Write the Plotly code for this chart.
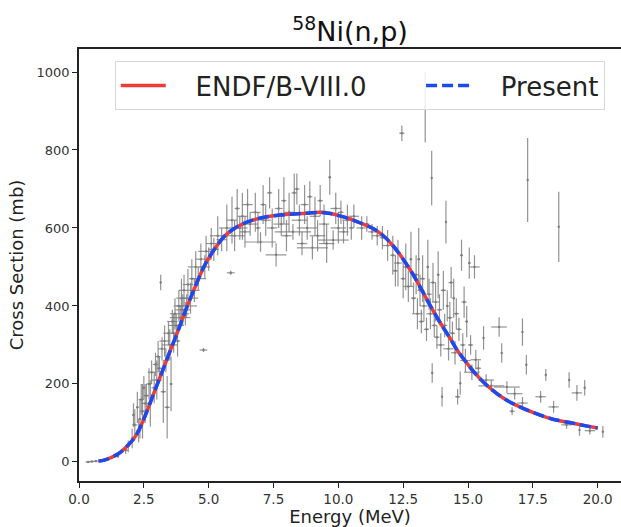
import plotly.graph_objects as go

# Evaluated curves
curve_energy = [0.75, 1.0, 1.5, 1.85, 2.2, 2.5, 2.85, 3.2, 3.5, 3.85, 4.16, 4.5, 4.85, 5.3, 5.6,
                5.93, 6.3, 6.7, 7.2, 7.75, 8.3, 8.8, 9.3, 9.7, 10.06, 10.5, 10.8, 11.3, 11.7,
                12.1, 12.5, 12.87, 13.2, 13.5, 13.9, 14.3, 14.6, 14.95, 15.3, 15.8, 16.4, 17.0,
                17.5, 18.0, 18.5, 19.0, 19.5, 20.0]
endf_cs = [2, 5, 20, 40, 68, 110, 170, 230, 282, 342, 397, 452, 505, 553, 578,
           596, 610, 620, 628, 633, 636, 638, 640, 637, 631, 622, 614, 600, 582,
           555, 520, 482, 443, 406, 360, 318, 285, 254, 225, 192, 162, 141,
           127, 115, 106, 100, 93, 87]
present_cs = [2, 5, 20, 40, 68, 110, 170, 230, 282, 342, 397, 452, 505, 553, 578,
              596, 610, 620, 628, 633, 636, 638, 640, 637, 631, 622, 614, 600, 582,
              555, 520, 482, 443, 406, 360, 318, 285, 254, 225, 192, 162, 141,
              127, 115, 106, 100, 93, 87]

exp_energy = [0.35, 0.5, 0.65, 1.0, 1.5, 1.8, 1.9, 2.05, 2.1, 2.15, 2.25, 2.3, 2.35, 2.4, 2.45, 2.5, 2.55,
              2.6, 2.7, 2.75, 2.8, 2.9, 2.95, 3.0, 3.05, 3.1, 3.15, 3.2, 3.25, 3.3, 3.35, 3.4, 3.45, 3.5, 3.55,
              3.6, 3.65, 3.7, 3.75, 3.8, 3.85, 3.9, 3.95, 4.0, 4.05,
              4.1, 4.15, 4.2, 4.3, 4.35, 4.45, 4.5, 4.6, 4.7, 4.8, 4.85, 4.9, 5.0, 5.1, 5.2, 5.35, 5.5, 5.7,
              5.85, 5.9, 6.0, 6.1, 6.2, 6.3, 6.4, 6.5, 6.6,
              6.8, 6.9, 7.0, 7.1, 7.2, 7.35, 7.45, 7.6, 7.7, 7.8, 7.9, 8.0, 8.1, 8.25, 8.3, 8.4, 8.5, 8.6,
              8.7, 8.8, 8.9, 9.0, 9.1, 9.2, 9.3, 9.45, 9.55, 9.67, 9.8, 9.9, 10.0, 10.1, 10.2, 10.35, 10.5, 10.6,
              10.9, 11.1, 11.3, 11.5, 11.7, 11.9, 12.1, 12.2, 12.3, 12.45, 12.5,
              12.6, 12.7, 12.8, 12.9, 13.0, 13.05, 13.1, 13.15, 13.2, 13.25, 13.3, 13.35, 13.4, 13.45, 13.5,
              13.55, 13.6, 13.62, 13.65, 13.7, 13.75, 13.8, 13.85, 13.9, 13.95, 14.0, 14.05, 14.1, 14.15, 14.2,
              14.25, 14.3, 14.35, 14.4, 14.45, 14.5, 14.55, 14.6, 14.65, 14.7, 14.75, 14.8, 14.85, 14.9, 14.95,
              15.05, 15.1, 15.15, 15.25, 15.3, 15.4, 15.6, 15.7, 15.9,
              16.2, 16.3, 16.5, 16.7, 16.8, 17.1, 17.1, 17.25, 17.3, 17.8, 18.0, 18.3, 18.5, 18.8, 18.9,
              19.2, 19.3, 19.5, 19.7, 20.2]
exp_cs = [0, 1, 2, 4, 15, 30, 40, 60, 120, 95, 140, 80, 110, 160, 130, 190, 150,
          170, 200, 150, 230, 190, 250, 210, 270, 240, 460, 290, 180, 310, 260, 140, 330, 300, 200,
          360, 330, 380, 350, 310, 400, 370, 420, 390, 440,
          380, 400, 455, 420, 470, 440, 500, 470, 520, 287, 500, 540, 520, 560, 545, 580, 570, 600,
          485, 620, 580, 650, 600, 630, 590, 660, 610,
          640, 600, 564, 660, 620, 690, 600, 531, 650, 610, 670, 580, 640, 590, 690, 700, 620, 560,
          660, 600, 680, 549, 630, 580, 670, 610, 560, 730, 569, 650, 600, 640, 590, 620, 600, 630,
          600, 610, 590, 580, 575, 555, 530, 490, 510, 843, 470,
          500, 450, 520, 420, 480, 380, 520, 440, 360, 470, 400, 910, 340, 500, 430,
          380, 728, 228, 460, 350, 410, 320, 480, 390, 300, 167, 440, 350, 615, 400,
          290, 370, 460, 330, 420, 280, 380, 167, 340, 202, 530, 300, 410, 260, 360,
          510, 300, 230, 500, 262, 240, 318, 210, 195,
          346, 279, 192, 130, 175, 333, 151, 249, 723, 167, 223, 141, 603, 95, 210,
          177, 82, 190, 80, 77]
exp_dE = [0.1, 0.1, 0.08, 0.05, 0.05, 0.1, 0.05, 0.05, 0.05, 0.1, 0.05, 0.1, 0.05, 0.1, 0.1, 0.05, 0.15,
          0.1, 0.1, 0.05, 0.15, 0.1, 0.1, 0.2, 0.1, 0.1, 0.02, 0.15, 0.1, 0.2, 0.1, 0.1, 0.2, 0.3, 0.05,
          0.2, 0.1, 0.2, 0.3, 0.1, 0.2, 0.4, 0.2, 0.3, 0.2,
          0.15, 0.4, 0.2, 0.3, 0.1, 0.2, 0.3, 0.3, 0.2, 0.15, 0.2, 0.3, 0.1, 0.2, 0.2, 0.3, 0.2, 0.3,
          0.15, 0.2, 0.4, 0.1, 0.3, 0.2, 0.2, 0.2, 0.3,
          0.2, 0.1, 0.6, 0.1, 0.2, 0.1, 0.2, 0.4, 0.15, 0.3, 0.1, 0.2, 0.2, 0.7, 0.1, 0.1, 0.3, 0.2,
          0.15, 0.4, 0.1, 0.6, 0.2, 0.3, 0.1, 0.2, 0.3, 0.05, 0.6, 0.2, 0.3, 0.1, 0.2, 0.2, 0.1, 0.2,
          0.2, 0.1, 0.15, 0.2, 0.1, 0.2, 0.1, 0.1, 0.15, 0.1, 0.1,
          0.1, 0.2, 0.05, 0.1, 0.1, 0.2, 0.05, 0.1, 0.1, 0.1, 0.15, 0.02, 0.1, 0.05, 0.1,
          0.15, 0.02, 0.02, 0.1, 0.1, 0.15, 0.1, 0.05, 0.1, 0.15, 0.02, 0.1, 0.1, 0.02, 0.05,
          0.2, 0.1, 0.1, 0.1, 0.05, 0.15, 0.1, 0.1, 0.1, 0.02, 0.05, 0.1, 0.1, 0.2, 0.05,
          0.05, 0.1, 0.3, 0.2, 0.2, 0.1, 0.02, 0.3, 0.5,
          0.3, 0.02, 0.5, 0.1, 0.3, 0.02, 0.2, 0.02, 0.02, 0.2, 0.02, 0.2, 0.02, 0.2, 0.02,
          0.2, 0.02, 0.02, 0.2, 0.02]
exp_dcs = [2, 2, 3, 3, 5, 10, 15, 25, 30, 40, 40, 30, 50, 40, 70, 30, 50,
           30, 40, 60, 30, 40, 30, 50, 40, 30, 20, 30, 80, 40, 30, 80, 30, 40, 70,
           30, 50, 40, 30, 40, 40, 30, 50, 40, 40,
           30, 30, 40, 40, 50, 30, 40, 30, 40, 5, 30, 40, 30, 40, 30, 50, 30, 60,
           5, 60, 40, 50, 30, 60, 40, 40, 30,
           50, 40, 25, 50, 40, 40, 50, 30, 50, 30, 60, 40, 50, 20, 50, 40, 40, 30,
           50, 30, 40, 30, 50, 40, 40, 50, 50, 45, 25, 40, 40, 30, 30, 40, 30, 30,
           30, 20, 20, 25, 30, 40, 50, 40, 60, 20, 50,
           60, 40, 70, 40, 50, 40, 80, 40, 30, 60, 40, 90, 30, 70, 40,
           40, 70, 25, 50, 30, 50, 30, 60, 40, 30, 25, 50, 30, 55, 40,
           30, 40, 40, 30, 50, 30, 40, 20, 30, 30, 40, 30, 40, 30, 40,
           40, 25, 20, 30, 25, 20, 30, 15, 15,
           25, 25, 15, 10, 15, 35, 15, 25, 108, 15, 15, 15, 90, 10, 20,
           20, 15, 20, 10, 15]

x_ticks = [0, 2.5, 5, 7.5, 10, 12.5, 15, 17.5, 20]
y_ticks = [0, 200, 400, 600, 800, 1000]

gray = "rgba(120,120,120,0.8)"
fig = go.Figure()
fig.add_trace(go.Scatter(
    x=exp_energy, y=exp_cs, mode="markers", showlegend=False,
    marker=dict(size=2.5, color=gray),
    error_x=dict(type="data", array=exp_dE, color=gray, thickness=1.2, width=0),
    error_y=dict(type="data", array=exp_dcs, color=gray, thickness=1.2, width=0),
))
fig.add_trace(go.Scatter(
    x=curve_energy, y=endf_cs, mode="lines", name="&nbsp;&nbsp;&nbsp;ENDF/B-VIII.0" + "&nbsp;" * 6,
    line=dict(color="rgb(240,60,55)", width=3.5, shape="spline"),
))
fig.add_trace(go.Scatter(
    x=curve_energy, y=present_cs, mode="lines", name="&nbsp;&nbsp;&nbsp;Present",
    line=dict(color="rgb(25,75,240)", width=3.5, dash="11px,5px", shape="spline"),
))

fig.update_layout(
    width=621, height=527,
    margin=dict(l=79, r=0, t=49, b=46),
    paper_bgcolor="white", plot_bgcolor="white",
    font=dict(family="DejaVu Sans", color="#222"),
    title=dict(text="<sup>58</sup>Ni(n,p)", x=0.5, xref="paper", xanchor="center",
               y=1 - 32 / 527, yref="container", yanchor="middle",
               font=dict(size=27, color="#111")),
    legend=dict(orientation="h", x=0.066, y=0.972, xanchor="left", yanchor="top",
                font=dict(size=26, color="#222"), bgcolor="rgba(255,255,255,0.85)",
                bordercolor="#d8d8d8", borderwidth=1, itemwidth=45),
)
fig.update_xaxes(
    range=[0, 20.9], tickvals=x_ticks, ticktext=[f"{v:.1f}" for v in x_ticks],
    showline=True, linecolor="#222", linewidth=1.5, mirror=True,
    ticks="outside", ticklen=5, tickcolor="#222", showgrid=False, zeroline=False,
    tickfont=dict(size=13.5, color="#333"),
    title=dict(text="Energy (MeV)", font=dict(size=18, color="#222"), standoff=2),
)
fig.update_yaxes(
    range=[-49, 1059], tickvals=y_ticks,
    showline=True, linecolor="#222", linewidth=1.5, mirror=False,
    ticks="outside", ticklen=5, tickcolor="#222", showgrid=False, zeroline=False,
    tickfont=dict(size=13, color="#333"),
    title=dict(text="Cross Section (mb)", font=dict(size=18, color="#222"), standoff=8),
)

fig.write_html("out.html")
